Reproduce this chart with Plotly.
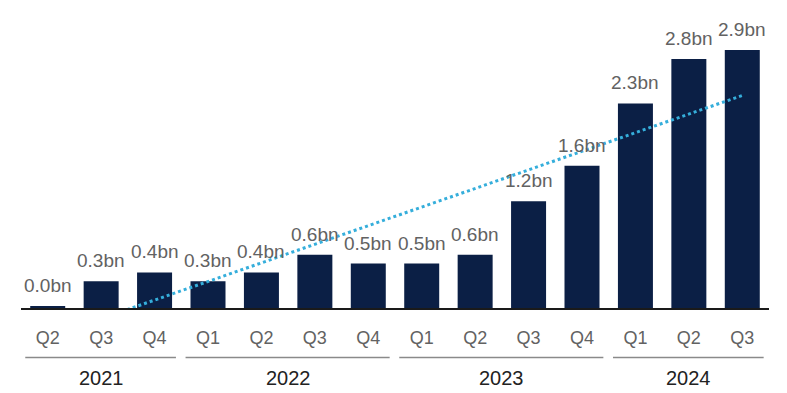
import numpy as np
import plotly.graph_objects as go

# Quarterly values (bn) and their labels
quarters = ["Q2", "Q3", "Q4", "Q1", "Q2", "Q3", "Q4",
            "Q1", "Q2", "Q3", "Q4", "Q1", "Q2", "Q3"]
values = [0.02, 0.3, 0.4, 0.3, 0.4, 0.6, 0.5,
          0.5, 0.6, 1.2, 1.6, 2.3, 2.8, 2.9]
years = ["2021", "2022", "2023", "2024"]
year_sizes = [3, 4, 4, 3]

BAR = "#0b1f45"
TREND = "#35aedb"
GREY = "#626262"
DARK = "#222222"
FONT = "Liberation Sans, Arial, sans-serif"

idx = np.arange(len(values))

# Linear trend across all quarters
slope, intercept = np.polyfit(idx, values, 1)
trend = slope * idx + intercept

fig = go.Figure()
fig.add_trace(go.Bar(
    x=idx, y=values, marker=dict(color=BAR, line=dict(width=0)),
    width=0.655, showlegend=False, hoverinfo="skip",
))
fig.add_trace(go.Scatter(
    x=idx, y=trend, mode="lines",
    line=dict(color=TREND, width=3, dash="dot"),
    showlegend=False, hoverinfo="skip",
))

annotations = []
for i, v in enumerate(values):
    annotations.append(dict(
        x=i, y=v, xref="x", yref="y", text=f"{v:.1f}bn",
        showarrow=False, yanchor="bottom", yshift=8,
        font=dict(family=FONT, size=19, color=GREY),
    ))

shapes = []
start = 0
for year, n in zip(years, year_sizes):
    end = start + n - 1
    shapes.append(dict(
        type="line", xref="x", yref="paper",
        x0=start - 0.42, x1=end + 0.4, y0=-0.166, y1=-0.166,
        line=dict(color="#8a8a8a", width=1.5),
    ))
    annotations.append(dict(
        x=(start + end) / 2, y=-0.235, xref="x", yref="paper",
        text=year, showarrow=False, yanchor="middle",
        font=dict(family=FONT, size=20, color=DARK),
    ))
    start += n

fig.update_layout(
    width=787, height=393,
    margin=dict(l=21, r=18, t=10, b=85),
    paper_bgcolor="white", plot_bgcolor="white",
    annotations=annotations, shapes=shapes,
    xaxis=dict(
        tickmode="array", tickvals=idx, ticktext=quarters,
        range=[-0.5, len(values) - 0.5],
        showgrid=False, zeroline=False,
        showline=True, linecolor="#1a1a1a", linewidth=1.5,
        ticks="", ticklabelstandoff=13,
        tickfont=dict(family=FONT, size=18, color=GREY),
    ),
    yaxis=dict(
        range=[0, 3.35], visible=False, showgrid=False, zeroline=False,
    ),
)

fig.write_html("out.html")
